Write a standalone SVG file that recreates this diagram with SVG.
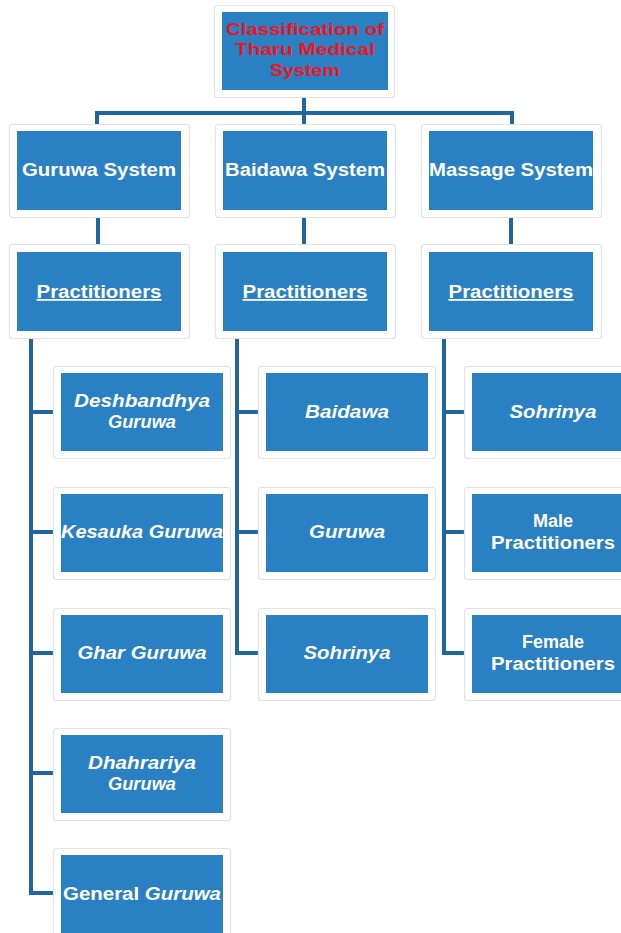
<svg xmlns="http://www.w3.org/2000/svg" width="621" height="933" viewBox="0 0 621 933">
<style>
.frame{fill:#fff;stroke:#e3e3e3;stroke-width:1.2}
.box{fill:#2980C2}
.t{font-family:"Liberation Sans",Arial,sans-serif;font-weight:bold;font-size:18px;fill:#fff;text-anchor:middle}
.i{font-style:italic}
.u{text-decoration:underline}
.title{fill:#F2141E;font-size:17px}
.conn{fill:none;stroke:#1F65A0;stroke-width:4;stroke-linejoin:miter}
</style>
<rect width="621" height="933" fill="#fff"/>
<g id="connectors">
<path class="conn" d="M304 97V113M97 125V113H512V125M304 113V125"/>
<path class="conn" d="M98 217V245M304 217V245M511 217V245"/>
<path class="conn" d="M31 338V893H55M31 412H55M31 532H55M31 653H55M31 773H55"/>
<path class="conn" d="M237 338V653H260M237 412H260M237 532H260"/>
<path class="conn" d="M444 338V653H466M444 412H466M444 532H466"/>
</g>
<g id="root">
<rect class="frame" x="214.5" y="5.5" width="180" height="92" rx="3"/>
<rect class="box" x="222" y="12" width="166" height="78"/>
<text class="t title" x="305" y="35" textLength="158" lengthAdjust="spacingAndGlyphs">Classification of</text>
<text class="t title" x="305" y="55" textLength="140" lengthAdjust="spacingAndGlyphs">Tharu Medical</text>
<text class="t title" x="305" y="76" textLength="70" lengthAdjust="spacingAndGlyphs">System</text>
</g>
<g id="guruwa-system">
<rect class="frame" x="9.5" y="124.5" width="180" height="93" rx="3"/>
<rect class="box" x="17" y="131" width="164" height="79"/>
<text class="t" x="99" y="176" textLength="154" lengthAdjust="spacingAndGlyphs">Guruwa System</text>
</g>
<g id="baidawa-system">
<rect class="frame" x="215.5" y="124.5" width="180" height="93" rx="3"/>
<rect class="box" x="223" y="131" width="164" height="79"/>
<text class="t" x="305" y="176" textLength="160" lengthAdjust="spacingAndGlyphs">Baidawa System</text>
</g>
<g id="massage-system">
<rect class="frame" x="421.5" y="124.5" width="180" height="93" rx="3"/>
<rect class="box" x="429" y="131" width="164" height="79"/>
<text class="t" x="511" y="176" textLength="164" lengthAdjust="spacingAndGlyphs">Massage System</text>
</g>
<g id="guruwa-practitioners">
<rect class="frame" x="9.5" y="244.5" width="180" height="94" rx="3"/>
<rect class="box" x="17" y="252" width="164" height="79"/>
<text class="t u" x="99" y="298" textLength="125" lengthAdjust="spacingAndGlyphs">Practitioners</text>
</g>
<g id="baidawa-practitioners">
<rect class="frame" x="215.5" y="244.5" width="180" height="94" rx="3"/>
<rect class="box" x="223" y="252" width="164" height="79"/>
<text class="t u" x="305" y="298" textLength="125" lengthAdjust="spacingAndGlyphs">Practitioners</text>
</g>
<g id="massage-practitioners">
<rect class="frame" x="421.5" y="244.5" width="180" height="94" rx="3"/>
<rect class="box" x="429" y="252" width="164" height="79"/>
<text class="t u" x="511" y="298" textLength="125" lengthAdjust="spacingAndGlyphs">Practitioners</text>
</g>
<g id="deshbandhya-guruwa">
<rect class="frame" x="53.5" y="366.5" width="177" height="92" rx="3"/>
<rect class="box" x="61" y="373" width="162" height="78"/>
<text class="t i" x="142" y="407" textLength="136" lengthAdjust="spacingAndGlyphs">Deshbandhya</text>
<text class="t i" x="142" y="428" textLength="68" lengthAdjust="spacingAndGlyphs">Guruwa</text>
</g>
<g id="kesauka-guruwa">
<rect class="frame" x="53.5" y="487.5" width="177" height="92" rx="3"/>
<rect class="box" x="61" y="494" width="162" height="78"/>
<text class="t i" x="142" y="538" textLength="162" lengthAdjust="spacingAndGlyphs">Kesauka Guruwa</text>
</g>
<g id="ghar-guruwa">
<rect class="frame" x="53.5" y="608.5" width="177" height="92" rx="3"/>
<rect class="box" x="61" y="615" width="162" height="78"/>
<text class="t i" x="142" y="659" textLength="129" lengthAdjust="spacingAndGlyphs">Ghar Guruwa</text>
</g>
<g id="dhahrariya-guruwa">
<rect class="frame" x="53.5" y="728.5" width="177" height="92" rx="3"/>
<rect class="box" x="61" y="735" width="162" height="78"/>
<text class="t i" x="142" y="769" textLength="108" lengthAdjust="spacingAndGlyphs">Dhahrariya</text>
<text class="t i" x="142" y="790" textLength="68" lengthAdjust="spacingAndGlyphs">Guruwa</text>
</g>
<g id="general-guruwa">
<rect class="frame" x="53.5" y="848.5" width="177" height="92" rx="3"/>
<rect class="box" x="61" y="855" width="162" height="78"/>
<text class="t" x="142" y="900" textLength="158" lengthAdjust="spacingAndGlyphs">General <tspan class="i">Guruwa</tspan></text>
</g>
<g id="baidawa">
<rect class="frame" x="258.5" y="366.5" width="177" height="92" rx="3"/>
<rect class="box" x="266" y="373" width="162" height="78"/>
<text class="t i" x="347" y="418" textLength="84" lengthAdjust="spacingAndGlyphs">Baidawa</text>
</g>
<g id="guruwa">
<rect class="frame" x="258.5" y="487.5" width="177" height="92" rx="3"/>
<rect class="box" x="266" y="494" width="162" height="78"/>
<text class="t i" x="347" y="538" textLength="76" lengthAdjust="spacingAndGlyphs">Guruwa</text>
</g>
<g id="baidawa-sohrinya">
<rect class="frame" x="258.5" y="608.5" width="177" height="92" rx="3"/>
<rect class="box" x="266" y="615" width="162" height="78"/>
<text class="t i" x="347" y="659" textLength="87" lengthAdjust="spacingAndGlyphs">Sohrinya</text>
</g>
<g id="massage-sohrinya">
<rect class="frame" x="464.5" y="366.5" width="177" height="92" rx="3"/>
<rect class="box" x="472" y="373" width="162" height="78"/>
<text class="t i" x="553" y="418" textLength="87" lengthAdjust="spacingAndGlyphs">Sohrinya</text>
</g>
<g id="male-practitioners">
<rect class="frame" x="464.5" y="487.5" width="177" height="92" rx="3"/>
<rect class="box" x="472" y="494" width="162" height="78"/>
<text class="t" x="553" y="527">Male</text>
<text class="t" x="553" y="549" textLength="124" lengthAdjust="spacingAndGlyphs">Practitioners</text>
</g>
<g id="female-practitioners">
<rect class="frame" x="464.5" y="608.5" width="177" height="92" rx="3"/>
<rect class="box" x="472" y="615" width="162" height="78"/>
<text class="t" x="553" y="648">Female</text>
<text class="t" x="553" y="670" textLength="124" lengthAdjust="spacingAndGlyphs">Practitioners</text>
</g>
</svg>
